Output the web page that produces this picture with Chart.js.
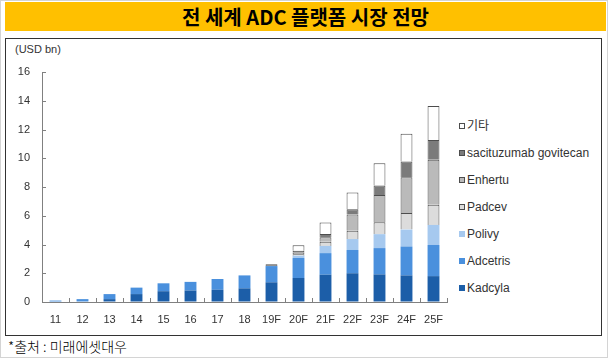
<!DOCTYPE html>
<html><head><meta charset="utf-8">
<script src="https://cdn.jsdelivr.net/npm/chart.js@4"></script>
<style>
html,body{margin:0;padding:0;background:#fff;}
#wrap{position:relative;width:608px;height:358px;overflow:hidden;font-family:"Liberation Sans","Noto Sans CJK KR",sans-serif;}
#frame{position:absolute;left:0;top:0;width:606px;height:356px;border:1px solid #d4d4d4;}
#title{position:absolute;left:5px;top:2px;width:601px;height:29px;background:#ffc000;text-align:center;font:bold 20px "Noto Sans CJK KR",sans-serif;line-height:29px;color:#000;}
#box{position:absolute;left:5px;top:38px;width:595px;height:296px;border:1px solid #333;}
#unit{position:absolute;left:15px;top:43px;font-size:11px;color:#333;}
#src{position:absolute;left:8px;top:337px;font:300 14px "Noto Sans CJK KR",sans-serif;color:#000;line-height:18px;}
#legend{position:absolute;left:459px;top:118px;}
.li{height:27px;line-height:16px;font-size:12px;color:#333;white-space:nowrap;display:flex;align-items:flex-start;}
.sw{display:inline-block;width:6px;height:6px;margin-right:2px;margin-top:5px;box-sizing:border-box;}
#cv{position:absolute;left:0;top:0;}
</style></head>
<body>
<div id="wrap">
<div id="frame"></div>
<div id="title">전 세계 ADC 플랫폼 시장 전망</div>
<div id="box"></div>
<div id="unit">(USD bn)</div>
<div id="legend"></div>
<div id="src">*출처 : 미래에셋대우</div>
<canvas id="cv" width="608" height="358"></canvas>
</div>
<script>
const categories = ['11','12','13','14','15','16','17','18','19F','20F','21F','22F','23F','24F','25F'];
const kadcyla     = [null, null, 0.2, 0.55, 0.75, 0.8, 0.85, 0.95, 1.37, 1.67, 1.9, 2.0, 1.92, 1.85, 1.8];
const adcetris    = [0.1, 0.2, 0.35, 0.45, 0.55, 0.6, 0.75, 0.9, 1.13, 1.39, 1.5, 1.62, 1.83, 2.01, 2.17];
const polivy      = [null, null, null, null, null, null, null, null, null, 0.16, 0.5, 0.76, 0.97, 1.18, 1.39];
const padcev      = [null, null, null, null, null, null, null, null, null, 0.1, 0.3, 0.58, 0.83, 1.16, 1.41];
const enhertu     = [null, null, null, null, null, null, null, null, null, 0.1, 0.3, 1.13, 1.9, 2.48, 3.13];
const sacituzumab = [null, null, null, null, null, null, null, null, 0.12, 0.15, 0.23, 0.37, 0.65, 1.09, 1.37];
const others      = [null, null, null, null, null, null, null, null, null, 0.37, 0.8, 1.16, 1.55, 1.94, 2.36];
const yTicks = [0, 2, 4, 6, 8, 10, 12, 14, 16];

const datasets = [
  {label:'Kadcyla', data:kadcyla, backgroundColor:'#1c5ea8', borderWidth:0},
  {label:'Adcetris', data:adcetris, backgroundColor:'#4a90dd', borderWidth:0},
  {label:'Polivy', data:polivy, backgroundColor:'#a6c9ef', borderWidth:0},
  {label:'Padcev', data:padcev, backgroundColor:'#dcdcdc', borderColor:'#4d4d4d', borderWidth:1},
  {label:'Enhertu', data:enhertu, backgroundColor:'#bababa', borderColor:'#4d4d4d', borderWidth:1},
  {label:'sacituzumab govitecan', data:sacituzumab, backgroundColor:'#7b7b7b', borderColor:'#4d4d4d', borderWidth:1},
  {label:'기타', data:others, backgroundColor:'#ffffff', borderColor:'#4d4d4d', borderWidth:1}
];

const lg = document.getElementById('legend');
datasets.slice().reverse().forEach(d => {
  const row = document.createElement('div'); row.className='li';
  const sw = document.createElement('span'); sw.className='sw';
  sw.style.background = d.backgroundColor;
  if (d.borderWidth) sw.style.border = '1px solid #4d4d4d';
  row.appendChild(sw);
  const t = document.createElement('span'); t.textContent = d.label;
  row.appendChild(t);
  lg.appendChild(row);
});

const innerTicks = {
  id:'innerTicks',
  afterDraw(chart){
    const ctx = chart.ctx, y = chart.scales.y, x = chart.scales.x, a = chart.chartArea;
    ctx.save();
    ctx.strokeStyle = '#808080'; ctx.lineWidth = 1;
    ctx.beginPath();
    yTicks.forEach(v => {
      const py = Math.round(y.getPixelForValue(v)) + 0.5;
      ctx.moveTo(a.left, py); ctx.lineTo(a.left + 4, py);
    });
    const n = categories.length;
    for (let i = 1; i <= n; i++) {
      const px = Math.round((x.getPixelForTick(i-1) + (i < n ? x.getPixelForTick(i) : 2*x.getPixelForTick(i-1) - x.getPixelForTick(i-2))) / 2) + 0.5;
      ctx.moveTo(px, a.bottom); ctx.lineTo(px, a.bottom - 4);
    }
    ctx.stroke();
    ctx.restore();
  }
};

new Chart(document.getElementById('cv'), {
  type:'bar',
  data:{labels:categories, datasets:datasets},
  options:{
    responsive:false, animation:false,
    layout:{padding:{left:0, top:72, right:161, bottom:0}},
    datasets:{bar:{categoryPercentage:1, barPercentage:0.44}},
    plugins:{legend:{display:false}, tooltip:{enabled:false}},
    scales:{
      x:{stacked:true,
        grid:{display:true, drawOnChartArea:false, drawTicks:false},
        border:{display:true, color:'#808080'},
        ticks:{color:'#333', font:{family:'"Liberation Sans", sans-serif', size:11}, padding:11, maxRotation:0, autoSkip:false},
        afterFit(s){ s.height = 56; }
      },
      y:{stacked:true, min:0, max:16,
        grid:{display:true, drawOnChartArea:false, drawTicks:false},
        border:{display:true, color:'#808080'},
        ticks:{stepSize:2, color:'#333', font:{family:'"Liberation Sans", sans-serif', size:11}, padding:12},
        afterFit(s){ s.width = 42; }
      }
    }
  },
  plugins:[innerTicks]
});
</script>
</body></html>
